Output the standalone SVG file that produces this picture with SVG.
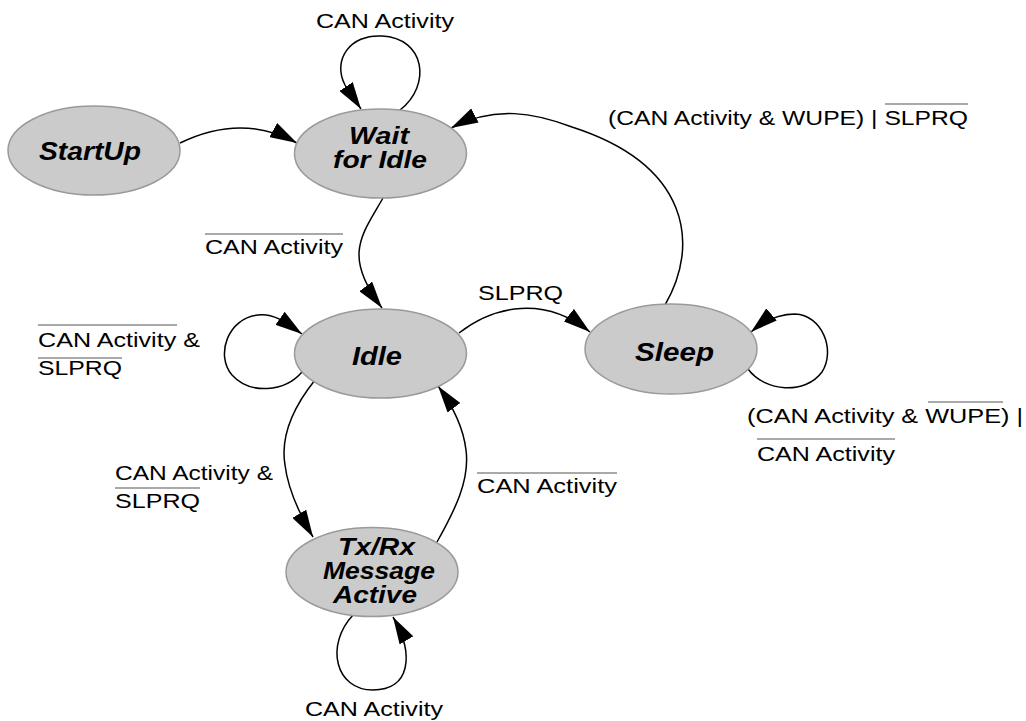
<svg xmlns="http://www.w3.org/2000/svg" width="1026" height="721" viewBox="0 0 1026 721">
<style>
.node ellipse{fill:#cbcbcb;stroke:#9a9a9a;stroke-width:1.5}
.nl{font-family:"Liberation Sans",Arial,Helvetica,sans-serif;font-weight:bold;font-style:italic;font-size:25px;fill:#000}
.nl2{font-family:"Liberation Sans",Arial,Helvetica,sans-serif;font-weight:bold;font-style:italic;font-size:23px;fill:#000}
.el{font-family:"Liberation Sans",Arial,Helvetica,sans-serif;font-size:21px;fill:#000}
.edge{fill:none;stroke:#000;stroke-width:1.5}
.ov{stroke:#555;stroke-width:1.2}
</style>
<defs>
<marker id="ah" viewBox="0 0 27 16" refX="27" refY="8" markerWidth="27" markerHeight="16" markerUnits="userSpaceOnUse" orient="auto">
<path d="M0,0 L27,8 L0,16 z" fill="#000"/>
</marker>
</defs>
<rect width="1026" height="721" fill="#fff"/>
<g id="connectors">
<path class="edge" marker-end="url(#ah)" d="M180,143 C215,126 255,120 297,143"/>
<path class="edge" marker-end="url(#ah)" d="M400,110 C432,85 425,38 382,36 C350,34 332,60 345,85 C350,94 355,100 361,109"/>
<path class="edge" marker-end="url(#ah)" d="M665,305 C700,245 690,165 572,127 C535,113 495,105 451,128"/>
<path class="edge" marker-end="url(#ah)" d="M383,198 C362,235 342,255 382,308"/>
<path class="edge" marker-end="url(#ah)" d="M459,333 C495,305 545,296 590,332"/>
<path class="edge" marker-end="url(#ah)" d="M748,369 C765,392 805,395 822,372 C836,350 822,315 795,314 C780,314 765,320 751,332"/>
<path class="edge" marker-end="url(#ah)" d="M302,372 C285,392 250,395 232,375 C215,355 228,318 258,315 C275,313 288,324 302,334"/>
<path class="edge" marker-end="url(#ah)" d="M315,380 C295,405 280,435 285,465 C288,490 300,515 313,537"/>
<path class="edge" marker-end="url(#ah)" d="M437,542 C455,510 470,480 466,450 C463,425 452,405 438,386"/>
<path class="edge" marker-end="url(#ah)" d="M353,615 C325,645 335,690 373,690 C410,690 415,655 393,617"/>
</g>
<g id="labels">
<text class="el" x="316" y="28" textLength="138" lengthAdjust="spacingAndGlyphs">CAN Activity</text>
<text class="el" x="608" y="125" textLength="360" lengthAdjust="spacingAndGlyphs">(CAN Activity &amp; WUPE) | SLPRQ</text>
<line class="ov" x1="885" y1="104" x2="968" y2="104"/>
<text class="el" x="205" y="254" textLength="138" lengthAdjust="spacingAndGlyphs">CAN Activity</text>
<line class="ov" x1="205" y1="234" x2="343" y2="234"/>
<text class="el" x="478" y="300" textLength="85" lengthAdjust="spacingAndGlyphs">SLPRQ</text>
<text class="el" x="38" y="347" textLength="162" lengthAdjust="spacingAndGlyphs">CAN Activity &amp;</text>
<line class="ov" x1="38" y1="325" x2="177" y2="325"/>
<text class="el" x="38" y="375" textLength="84" lengthAdjust="spacingAndGlyphs">SLPRQ</text>
<line class="ov" x1="38" y1="358" x2="122" y2="358"/>
<text class="el" x="747" y="423" textLength="276" lengthAdjust="spacingAndGlyphs">(CAN Activity &amp; WUPE) |</text>
<line class="ov" x1="928" y1="402" x2="1003" y2="402"/>
<text class="el" x="757" y="461" textLength="138" lengthAdjust="spacingAndGlyphs">CAN Activity</text>
<line class="ov" x1="757" y1="439" x2="895" y2="439"/>
<text class="el" x="115" y="480" textLength="158" lengthAdjust="spacingAndGlyphs">CAN Activity &amp;</text>
<text class="el" x="115" y="508" textLength="85" lengthAdjust="spacingAndGlyphs">SLPRQ</text>
<line class="ov" x1="115" y1="488" x2="200" y2="488"/>
<text class="el" x="477" y="493" textLength="140" lengthAdjust="spacingAndGlyphs">CAN Activity</text>
<line class="ov" x1="477" y1="473" x2="617" y2="473"/>
<text class="el" x="305" y="716" textLength="138" lengthAdjust="spacingAndGlyphs">CAN Activity</text>
</g>
<g id="startup" class="node">
<ellipse cx="94" cy="150.5" rx="86" ry="44.5"/>
<text class="nl" x="39" y="160" textLength="102" lengthAdjust="spacingAndGlyphs">StartUp</text>
</g>
<g id="waitforidle" class="node">
<ellipse cx="380.5" cy="153.5" rx="86" ry="44.5"/>
<text class="nl2" x="349" y="144" textLength="60" lengthAdjust="spacingAndGlyphs">Wait</text>
<text class="nl2" x="333" y="168" textLength="94" lengthAdjust="spacingAndGlyphs">for Idle</text>
</g>
<g id="idle" class="node">
<ellipse cx="380.5" cy="353.5" rx="86" ry="44.5"/>
<text class="nl" x="352" y="365" textLength="50" lengthAdjust="spacingAndGlyphs">Idle</text>
</g>
<g id="sleep" class="node">
<ellipse cx="671" cy="349" rx="86" ry="45"/>
<text class="nl" x="635" y="361" textLength="79" lengthAdjust="spacingAndGlyphs">Sleep</text>
</g>
<g id="txrx" class="node">
<ellipse cx="372" cy="572" rx="86" ry="44.5"/>
<text class="nl2" x="338" y="555" textLength="77" lengthAdjust="spacingAndGlyphs">Tx/Rx</text>
<text class="nl2" x="323" y="579" textLength="112" lengthAdjust="spacingAndGlyphs">Message</text>
<text class="nl2" x="333" y="603" textLength="84" lengthAdjust="spacingAndGlyphs">Active</text>
</g>
</svg>
